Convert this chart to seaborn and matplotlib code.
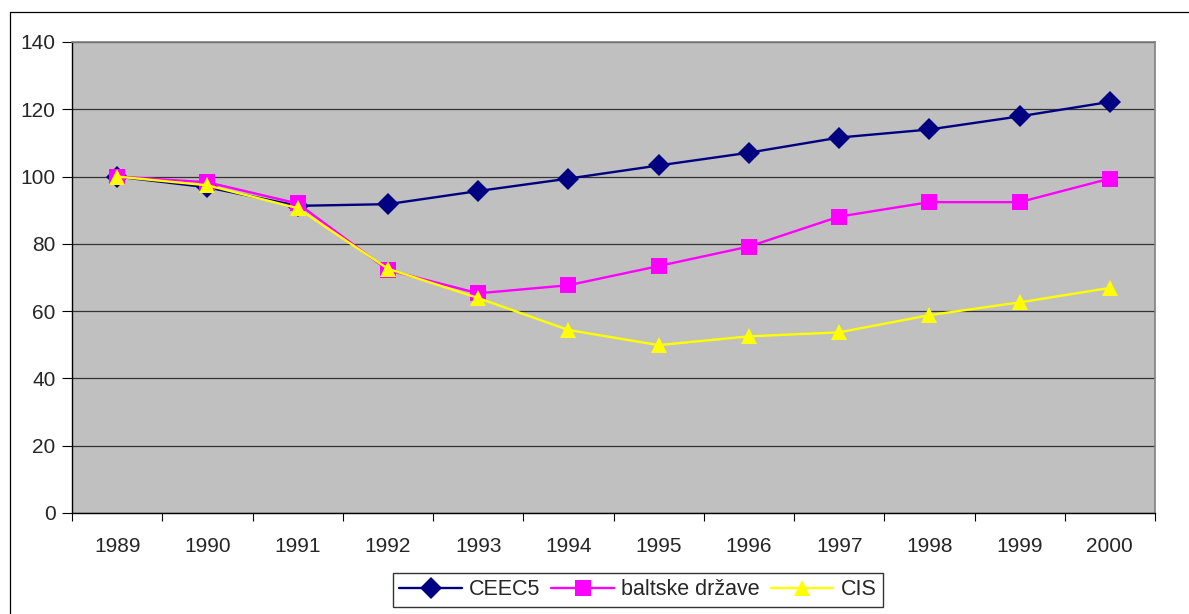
import matplotlib
matplotlib.use("Agg")
import matplotlib.pyplot as plt
from matplotlib.patches import Rectangle
from matplotlib.ticker import FixedLocator
import pandas as pd
import seaborn as sns

sns.set_style("white")
plt.rcParams["font.family"] = ["Liberation Sans", "DejaVu Sans"]

# ── Data (index, 1989 = 100) ───────────────────────────────────────────────
years = ["1989", "1990", "1991", "1992", "1993", "1994",
         "1995", "1996", "1997", "1998", "1999", "2000"]
ceec5 = [100, 96.8, 91.3, 91.8, 95.7, 99.4, 103.3, 107.1, 111.6, 114.0, 117.9, 122.2]
baltic = [100, 98.3, 92.0, 72.2, 65.3, 67.7, 73.4, 79.2, 88.1, 92.4, 92.4, 99.4]
cis = [100, 97.4, 90.6, 72.6, 63.9, 54.4, 49.9, 52.5, 53.7, 58.8, 62.6, 66.9]
series_names = ["CEEC5", "baltske države", "CIS"]

df = pd.DataFrame({
    "pos": list(range(len(years))) * 3,
    "value": ceec5 + baltic + cis,
    "series": [s for s in series_names for _ in years],
})

palette = {"CEEC5": "#000080", "baltske države": "#FF00FF", "CIS": "#FFFF00"}
markers = {"CEEC5": "D", "baltske države": "s", "CIS": "^"}

# ── Plot ───────────────────────────────────────────────────────────────────
fig = plt.figure(figsize=(11.89, 6.14), dpi=100)
ax = fig.add_axes([0.0606, 0.1645, 0.9108, 0.7671])
ax.set_facecolor("#C0C0C0")

sns.lineplot(
    data=df, x="pos", y="value", hue="series", style="series",
    palette=palette, markers=markers, dashes=False,
    hue_order=series_names, style_order=series_names,
    linewidth=1.7, markersize=11, markeredgewidth=0, ax=ax,
)

ax.set_xlim(-0.5, len(years) - 0.5)
ax.set_ylim(0, 140)
ax.set_yticks(range(0, 141, 20))
ax.set_xticks(range(len(years)))
ax.set_xticklabels(years)
ax.xaxis.set_minor_locator(FixedLocator([i - 0.5 for i in range(len(years) + 1)]))
ax.set_xlabel("")
ax.set_ylabel("")

ax.grid(axis="y", color="#333333", linewidth=0.9)
ax.set_axisbelow(True)
ax.tick_params(axis="y", which="major", direction="out", length=7,
               width=0.8, color="black", labelsize=15, pad=5, left=True)
ax.tick_params(axis="x", which="major", length=0, labelsize=15, pad=17)
ax.tick_params(axis="x", which="minor", direction="out", length=6,
               width=0.8, color="black", bottom=True)

for side in ["left", "bottom"]:
    ax.spines[side].set_color("black")
    ax.spines[side].set_linewidth(1.0)
for side in ["top", "right"]:
    ax.spines[side].set_color("#808080")
    ax.spines[side].set_linewidth(1.2)

handles, labels = ax.get_legend_handles_labels()
ax.get_legend().remove()
leg = fig.legend(
    handles, labels, loc="upper center", bbox_to_anchor=(0.5366, 0.0668),
    ncol=3, frameon=True, fancybox=False, edgecolor="black",
    fontsize=15.5, handlelength=2.9, handletextpad=0.35, columnspacing=0.5,
    borderpad=0.3, borderaxespad=0,
)
leg.get_frame().set_linewidth(1.0)

# outer chart border (partially cropped in the original)
fig.patches.append(Rectangle((0.0084, -0.1), 1.2, 1.0805, transform=fig.transFigure,
                             fill=False, edgecolor="black", linewidth=0.9))

fig.savefig("out.png", dpi=100)
